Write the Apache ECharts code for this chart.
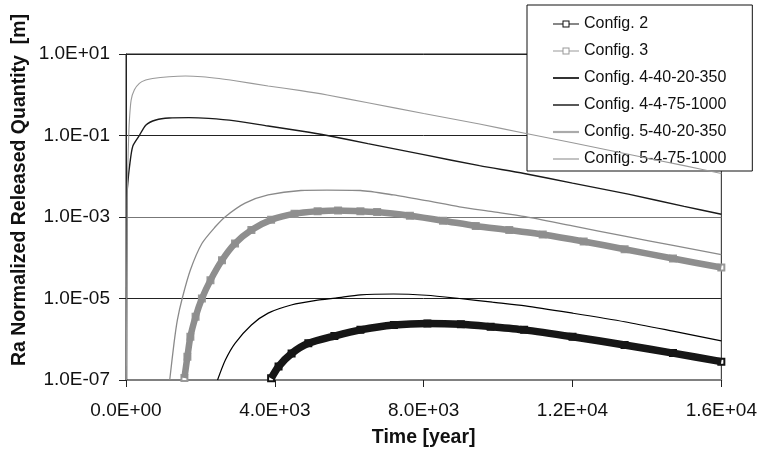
<!DOCTYPE html>
<html><head><meta charset="utf-8">
<script src="https://cdn.jsdelivr.net/npm/echarts@6/dist/echarts.min.js"></script>
<style>html,body{margin:0;padding:0;background:#fff}#c{width:760px;height:456px}</style>
</head><body><div id="c"></div>
<script>
// ---- tick labels ----
const xTicks = [0, 4000, 8000, 12000, 16000];
const xTickLabels = ['0.0E+00', '4.0E+03', '8.0E+03', '1.2E+04', '1.6E+04'];
const yTickExponents = [-7, -5, -3, -1, 1];
const yTickLabels = ['1.0E-07', '1.0E-05', '1.0E-03', '1.0E-01', '1.0E+01'];

const seriesNames = ['Config. 2', 'Config. 3', 'Config. 4-40-20-350', 'Config. 4-4-75-1000', 'Config. 5-40-20-350', 'Config. 5-4-75-1000'];

// ---- Config. 2 (black squares) ----
const cfg2Time  = [3900, 4100, 4450, 4900, 5600, 6300, 7200, 8100, 9000, 9800, 10700, 12000, 13400, 14700, 16000];
const cfg2Value = [1.10e-7, 2.14e-7, 4.47e-7, 7.94e-7, 1.20e-6, 1.70e-6, 2.24e-6, 2.45e-6, 2.34e-6, 2.04e-6, 1.70e-6, 1.15e-6, 7.24e-7, 4.57e-7, 2.82e-7];

// ---- Config. 3 (grey squares) ----
const cfg3Time  = [1570, 1650, 1730, 1870, 2040, 2270, 2580, 2930, 3370, 3900, 4530, 5150, 5700, 6300, 6750, 7630, 8520, 9400, 10300, 11200, 12300, 13400, 14700, 16000];
const cfg3Value = [1.12e-7, 3.72e-7, 1.15e-6, 3.55e-6, 1.00e-5, 2.82e-5, 8.71e-5, 2.24e-4, 4.79e-4, 8.51e-4, 1.20e-3, 1.38e-3, 1.45e-3, 1.38e-3, 1.32e-3, 1.07e-3, 8.13e-4, 6.03e-4, 4.79e-4, 3.72e-4, 2.51e-4, 1.62e-4, 9.55e-5, 5.75e-5];

// ---- Config. 4-40-20-350 (black, lower) ----
const cfg440Time  = [2460, 2670, 2930, 3370, 3820, 4440, 5150, 5630, 6300, 7190, 8070, 8960, 9850, 10730, 12000, 13400, 14700, 16000];
const cfg440Value = [1.0e-7, 3.09e-7, 7.94e-7, 2.24e-6, 4.37e-6, 6.92e-6, 9.12e-6, 1.02e-5, 1.23e-5, 1.29e-5, 1.20e-5, 1.00e-5, 8.13e-6, 6.61e-6, 4.37e-6, 2.69e-6, 1.58e-6, 9.12e-7];

// ---- Config. 4-4-75-1000 (black, upper) ----
const cfg44Time  = [15, 25, 48, 93, 181, 359, 537, 803, 1157, 1690, 2220, 2930, 3820, 4700, 5410, 6500, 8000, 9500, 10700, 12000, 13500, 15000, 16000];
const cfg44Value = [1.0e-7, 3.2e-3, 6.8e-3, 1.7e-2, 5.4e-2, 0.100, 0.182, 0.240, 0.269, 0.274, 0.263, 0.229, 0.171, 0.129, 0.100, 0.063, 0.0339, 0.0182, 0.0117, 0.00676, 0.00363, 0.00182, 0.00117];

// ---- Config. 5-40-20-350 (grey, middle) ----
const cfg540Time  = [1175, 1290, 1380, 1510, 1730, 2040, 2400, 2670, 3200, 3820, 4700, 5400, 6300, 7190, 8070, 8960, 9850, 10730, 12000, 13400, 14700, 16000];
const cfg540Value = [1.0e-7, 7.94e-7, 2.95e-6, 1.0e-5, 5.01e-5, 2.24e-4, 5.75e-4, 1.02e-3, 2.19e-3, 3.47e-3, 4.47e-3, 4.57e-3, 4.47e-3, 3.47e-3, 2.51e-3, 1.78e-3, 1.35e-3, 1.02e-3, 6.03e-4, 3.39e-4, 2.0e-4, 1.20e-4];

// ---- Config. 5-4-75-1000 (grey, upper) ----
const cfg54Time  = [10, 32, 48, 75, 93, 138, 226, 359, 530, 713, 1157, 1600, 2043, 2500, 2930, 3820, 4700, 5410, 6500, 8000, 9500, 10650, 12000, 13500, 15000, 16000];
const cfg54Value = [1.0e-7, 2.6e-3, 1.70e-2, 0.112, 0.251, 0.741, 1.32, 1.91, 2.29, 2.51, 2.77, 2.88, 2.77, 2.51, 2.21, 1.64, 1.26, 0.986, 0.634, 0.347, 0.191, 0.117, 0.0661, 0.0347, 0.0182, 0.0117];

function pairs(t, v) { return t.map((x, i) => [x, v[i]]); }

const FONT = '"Liberation Sans", Arial, Helvetica, sans-serif';

const chart = echarts.init(document.getElementById('c'), null, { renderer: 'canvas' });

function xLabel(val) {
  const i = xTicks.indexOf(val);
  return i >= 0 ? xTickLabels[i] : '';
}
function yLabel(val) {
  const e = Math.round(Math.log10(val));
  const i = yTickExponents.indexOf(e);
  return i >= 0 ? yTickLabels[i] : '';
}
function lineIcon(h) { return 'path://M0,0H26V' + h + 'H0Z'; }
// line with a hollow square in the middle
const markerIcon = 'path://M0,4.5H9.5V1.5H16.5V4.5H26V5.5H16.5V8.5H9.5V5.5H0Z M10.5,2.5V7.5H15.5V2.5Z';

const option = {
  animation: false,
  backgroundColor: '#fff',
  grid: { left: 126, right: 32, top: 54, bottom: 76, show: true, borderColor: '#222', borderWidth: 1, backgroundColor: 'transparent' },
  xAxis: {
    type: 'value', min: 0, max: 16000, interval: 4000,
    name: 'Time [year]', nameLocation: 'middle', nameGap: 48,
    nameTextStyle: { fontFamily: FONT, fontSize: 19.5, fontWeight: 'bold', color: '#111' },
    axisLine: { show: true, lineStyle: { color: '#808080', width: 2 } },
    axisTick: { show: true, length: 7, lineStyle: { color: '#222', width: 1 } },
    axisLabel: { formatter: xLabel, fontFamily: FONT, fontSize: 19, color: '#111', margin: 21 },
    splitLine: { show: false }
  },
  yAxis: {
    type: 'log', logBase: 10, min: 1e-7, max: 10, interval: 2,
    axisLine: { show: true, lineStyle: { color: '#222', width: 1 } },
    axisTick: { show: true, length: 7, lineStyle: { color: '#222', width: 1 } },
    axisLabel: { formatter: yLabel, fontFamily: FONT, fontSize: 19, color: '#111', margin: 16 },
    splitLine: { show: true, lineStyle: { color: ['#808080', '#222', '#777', '#222', '#222'], width: 1 } },
    minorTick: { show: false }, minorSplitLine: { show: false }
  },
  legend: {
    orient: 'vertical', left: 527, top: 5,
    padding: [11, 26, 4, 26],
    itemGap: 11, itemWidth: 26, itemHeight: 10,
    borderColor: '#111', borderWidth: 1, backgroundColor: '#fff',
    textStyle: { fontFamily: FONT, fontSize: 16, color: '#111' },
    data: [
      { name: seriesNames[0], icon: markerIcon, itemStyle: { color: '#111' } },
      { name: seriesNames[1], icon: markerIcon, itemStyle: { color: '#999' } },
      { name: seriesNames[2], icon: lineIcon(1.6), itemStyle: { color: '#000' } },
      { name: seriesNames[3], icon: lineIcon(1.8), itemStyle: { color: '#444' } },
      { name: seriesNames[4], icon: lineIcon(2.2), itemStyle: { color: '#aaa' } },
      { name: seriesNames[5], icon: lineIcon(1.2), itemStyle: { color: '#999' } }
    ]
  },
  graphic: [{
    type: 'text', x: 20, y: 190, rotation: Math.PI / 2,
    style: { text: 'Ra Normalized Released Quantity  [m]', font: 'bold 19.5px ' + FONT, fill: '#111', align: 'center', verticalAlign: 'middle' }
  }],
  series: [
    { name: seriesNames[0], type: 'line', data: pairs(cfg2Time, cfg2Value), symbol: 'emptyRect', symbolSize: 6, showSymbol: true,
      lineStyle: { color: '#111', width: 1 }, itemStyle: { color: '#111' }, smooth: 0.25, z: 2 },
    { name: seriesNames[0], type: 'line', data: pairs(cfg2Time, cfg2Value), symbol: 'none',
      lineStyle: { color: '#161616', width: 7.5 }, itemStyle: { color: '#161616' }, smooth: 0.25, z: 3 },
    { name: seriesNames[1], type: 'line', data: pairs(cfg3Time, cfg3Value), symbol: 'emptyRect', symbolSize: 6, showSymbol: true,
      lineStyle: { color: '#999', width: 1 }, itemStyle: { color: '#999' }, smooth: 0.25, z: 2 },
    { name: seriesNames[1], type: 'line', data: pairs(cfg3Time, cfg3Value), symbol: 'none',
      lineStyle: { color: '#8e8e8e', width: 6.5 }, itemStyle: { color: '#8e8e8e' }, smooth: 0.25, z: 3 },
    { name: seriesNames[2], type: 'line', data: pairs(cfg440Time, cfg440Value), symbol: 'none',
      lineStyle: { color: '#000', width: 1.2 }, itemStyle: { color: '#000' }, smooth: 0.25, z: 4 },
    { name: seriesNames[3], type: 'line', data: pairs(cfg44Time, cfg44Value), symbol: 'none',
      lineStyle: { color: '#1a1a1a', width: 1.4 }, itemStyle: { color: '#1a1a1a' }, smooth: 0.25, z: 4 },
    { name: seriesNames[4], type: 'line', data: pairs(cfg540Time, cfg540Value), symbol: 'none',
      lineStyle: { color: '#8a8a8a', width: 1.3 }, itemStyle: { color: '#8a8a8a' }, smooth: 0.25, z: 4 },
    { name: seriesNames[5], type: 'line', data: pairs(cfg54Time, cfg54Value), symbol: 'none',
      lineStyle: { color: '#999', width: 1.1 }, itemStyle: { color: '#999' }, smooth: 0.25, z: 4 }
  ]
};
chart.setOption(option);
</script>
</body></html>
